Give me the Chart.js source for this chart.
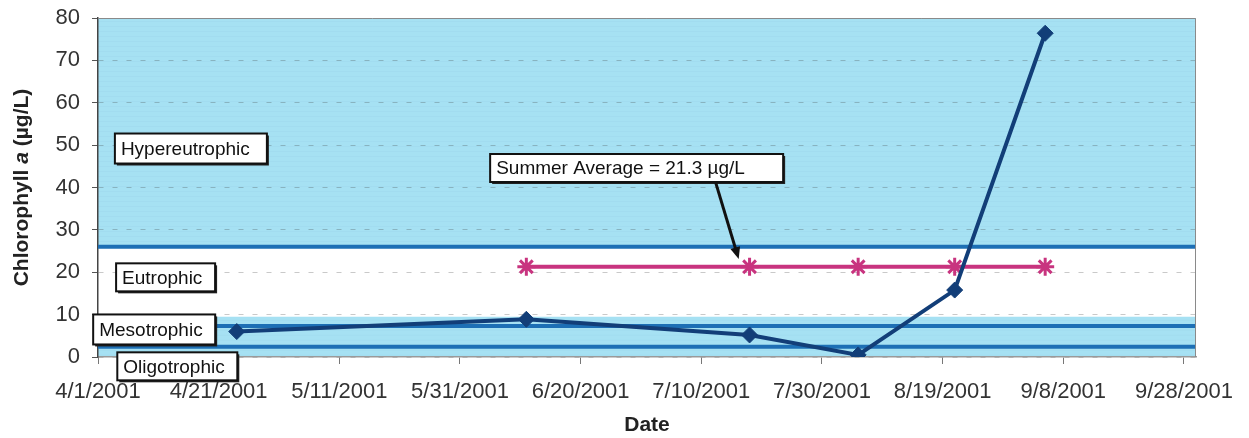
<!DOCTYPE html>
<html>
<head>
<meta charset="utf-8">
<script src="https://cdn.jsdelivr.net/npm/chart.js@4.4.0/dist/chart.umd.min.js"></script>
<style>
  html, body { margin: 0; padding: 0; background: #fff; }
</style>
</head>
<body>
<canvas id="grafico" width="1249" height="438"></canvas>
<script>
// dados
const sampleDates = ['4/24/2001', '6/11/2001', '7/18/2001', '8/5/2001', '8/21/2001', '9/5/2001'];
const chlorophyll = [6.0, 8.9, 5.2, 0.5, 15.8, 76.4];
const summerDates = ['6/11/2001', '7/18/2001', '8/5/2001', '8/21/2001', '9/5/2001'];
const summerAverage = [21.3, 21.3, 21.3, 21.3, 21.3];
const trophicLimits = [2.4, 7.3, 26];
const xTickLabels = ['4/1/2001', '4/21/2001', '5/11/2001', '5/31/2001', '6/20/2001', '7/10/2001', '7/30/2001', '8/19/2001', '9/8/2001', '9/28/2001'];
const yTickValues = [0, 10, 20, 30, 40, 50, 60, 70, 80];
const axisStart = '4/1/2001';
const axisEnd = '9/30/2001';

const FONT = "'Liberation Sans', Arial, sans-serif";
const BLUE_BAND = '#a6e1f3';

function dayOf(s) {
  const [m, d, y] = s.split('/').map(Number);
  const [m0, d0, y0] = axisStart.split('/').map(Number);
  return Math.round((Date.UTC(y, m - 1, d) - Date.UTC(y0, m0 - 1, d0)) / 86400000);
}

const labelOfDay = {};
xTickLabels.forEach(l => { labelOfDay[dayOf(l)] = l; });

const limitSets = trophicLimits.map(v => ({
  data: [{ x: dayOf(axisStart), y: v }, { x: dayOf(axisEnd), y: v }],
  borderColor: '#1d6fb5',
  borderWidth: 4,
  pointRadius: 0,
  order: 3
}));

function noPadding(s) {
  s.paddingTop = 0; s.paddingBottom = 0; s.paddingLeft = 0; s.paddingRight = 0;
}

// faixas de fundo + textos
const trophicPlugin = {
  id: 'trophic',
  beforeDraw(chart) {
    const { ctx, chartArea: a, scales: { y } } = chart;
    ctx.save();
    ctx.fillStyle = '#fff';
    ctx.fillRect(a.left, a.top, a.width, a.height);
    const bands = [[0, 9.5], [26, 80]];
    ctx.fillStyle = BLUE_BAND;
    bands.forEach(([lo, hi]) => {
      const t = y.getPixelForValue(hi), b = y.getPixelForValue(lo);
      ctx.fillRect(a.left, t, a.width, b - t);
    });
    // textura leve
    ctx.strokeStyle = 'rgba(140,200,222,0.16)';
    ctx.lineWidth = 1;
    bands.forEach(([lo, hi]) => {
      const t = y.getPixelForValue(hi), b = y.getPixelForValue(lo);
      for (let py = t + 3; py < b; py += 5) {
        ctx.beginPath(); ctx.moveTo(a.left, py + 0.5); ctx.lineTo(a.right, py + 0.5); ctx.stroke();
      }
    });
    ctx.restore();
  },
  afterDraw(chart) {
    const { ctx, chartArea: a, scales: { x, y } } = chart;
    ctx.save();
    // borda direita e topo
    ctx.strokeStyle = '#8a8a8a';
    ctx.lineWidth = 1;
    ctx.beginPath();
    ctx.moveTo(a.left, a.top + 0.5); ctx.lineTo(a.right - 0.5, a.top + 0.5); ctx.lineTo(a.right - 0.5, a.bottom);
    ctx.stroke();

    const boxes = [
      { text: 'Hypereutrophic', d: 2.8, v: 49.2, w: 152, h: 30 },
      { text: 'Eutrophic', d: 3.0, v: 18.8, w: 99, h: 28 },
      { text: 'Mesotrophic', d: -0.8, v: 6.5, w: 122, h: 30 },
      { text: 'Oligotrophic', d: 3.2, v: -2.2, w: 120, h: 28 },
      { text: 'Summer Average = 21.3 \u00b5g/L', d: 65.0, v: 44.6, w: 293, h: 28 }
    ];
    ctx.font = '19px ' + FONT;
    ctx.textBaseline = 'middle';
    ctx.textAlign = 'left';
    boxes.forEach(b => {
      const left = x.getPixelForValue(b.d);
      const cy = y.getPixelForValue(b.v);
      const top = cy - b.h / 2;
      ctx.fillStyle = '#222';
      ctx.fillRect(left + 2, top + 2, b.w, b.h);
      ctx.fillStyle = '#fff';
      ctx.fillRect(left, top, b.w, b.h);
      ctx.strokeStyle = '#111';
      ctx.lineWidth = 2;
      ctx.strokeRect(left, top, b.w, b.h);
      ctx.fillStyle = '#111';
      ctx.fillText(b.text, left + 6, cy + 1);
    });

    // seta da média
    const x1 = x.getPixelForValue(102.4), y1 = y.getPixelForValue(41.1);
    const x2 = x.getPixelForValue(106.2), y2 = y.getPixelForValue(23.1);
    const ang = Math.atan2(y2 - y1, x2 - x1);
    ctx.strokeStyle = '#111';
    ctx.lineWidth = 3;
    ctx.beginPath(); ctx.moveTo(x1, y1); ctx.lineTo(x2 - 8 * Math.cos(ang), y2 - 8 * Math.sin(ang)); ctx.stroke();
    ctx.fillStyle = '#111';
    ctx.beginPath();
    ctx.moveTo(x2, y2);
    ctx.lineTo(x2 - 12 * Math.cos(ang) + 5 * Math.sin(ang), y2 - 12 * Math.sin(ang) - 5 * Math.cos(ang));
    ctx.lineTo(x2 - 12 * Math.cos(ang) - 5 * Math.sin(ang), y2 - 12 * Math.sin(ang) + 5 * Math.cos(ang));
    ctx.closePath(); ctx.fill();

    // título do eixo Y com "a" em itálico
    const parts = [['Chlorophyll ', 'bold '], ['a', 'italic bold '], [' (\u00b5g/L)', 'bold ']];
    let total = 0;
    parts.forEach(p => { ctx.font = p[1] + '21px ' + FONT; total += ctx.measureText(p[0]).width; });
    ctx.translate(22, (a.top + a.bottom) / 2);
    ctx.rotate(-Math.PI / 2);
    ctx.fillStyle = '#222';
    ctx.textBaseline = 'middle';
    let px = -total / 2;
    parts.forEach(p => {
      ctx.font = p[1] + '21px ' + FONT;
      ctx.fillText(p[0], px, 0);
      px += ctx.measureText(p[0]).width;
    });
    ctx.restore();
  }
};

new Chart(document.getElementById('grafico').getContext('2d'), {
  type: 'line',
  data: {
    datasets: [
      {
        data: sampleDates.map((d, i) => ({ x: dayOf(d), y: chlorophyll[i] })),
        borderColor: '#123e78',
        backgroundColor: '#123e78',
        borderWidth: 4,
        pointStyle: 'rectRot',
        pointRadius: 8,
        pointBorderWidth: 1,
        order: 1
      },
      {
        data: summerDates.map((d, i) => ({ x: dayOf(d), y: summerAverage[i] })),
        borderColor: '#c8347f',
        backgroundColor: '#c8347f',
        borderWidth: 4,
        pointStyle: 'star',
        pointRadius: 9,
        pointBorderWidth: 3,
        order: 2
      },
      ...limitSets
    ]
  },
  options: {
    responsive: false,
    animation: false,
    layout: { padding: { top: 18, right: 53, left: 0, bottom: 0 } },
    plugins: { legend: { display: false }, tooltip: { enabled: false } },
    scales: {
      x: {
        type: 'linear',
        min: dayOf(axisStart),
        max: dayOf(axisEnd),
        afterBuildTicks: s => { s.ticks = xTickLabels.map(l => ({ value: dayOf(l) })); },
        afterFit: s => { s.height = 81; noPadding(s); },
        ticks: {
          autoSkip: false, maxRotation: 0, padding: 15,
          color: '#333', font: { family: FONT, size: 22 },
          callback: v => labelOfDay[v] || ''
        },
        grid: { drawOnChartArea: false, tickLength: 7, color: '#777' },
        border: { color: '#9a9a9a', width: 1.5 },
        title: {
          display: true, text: 'Date', color: '#222',
          font: { family: FONT, size: 21, weight: 'bold' },
          padding: { top: 4, bottom: 0 }
        }
      },
      y: {
        min: 0,
        max: 80,
        afterBuildTicks: s => { s.ticks = yTickValues.map(v => ({ value: v })); },
        afterFit: s => { s.width = 98; noPadding(s); },
        ticks: { padding: 12, color: '#333', font: { family: FONT, size: 22 } },
        grid: { color: 'rgba(60,60,60,0.28)', tickLength: 6, tickColor: '#555', lineWidth: 1 },
        border: { color: '#444', width: 1.5, dash: [5, 9] }
      }
    }
  },
  plugins: [trophicPlugin]
});
</script>
</body>
</html>
